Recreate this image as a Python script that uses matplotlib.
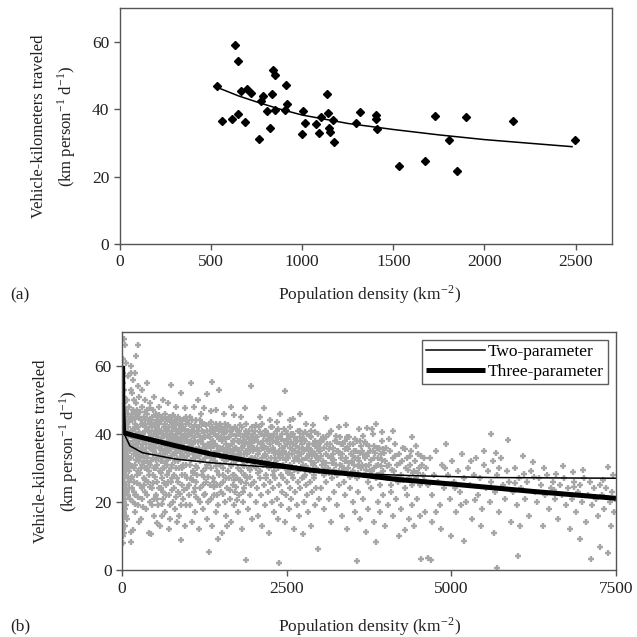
import matplotlib
matplotlib.use("Agg")
import matplotlib.pyplot as plt
import numpy as np

plt.rcParams['font.family'] = ['Liberation Serif', 'DejaVu Serif']
plt.rcParams['mathtext.fontset'] = 'stix'

# ---- panel (a): city averages ----
density_a = [534, 562, 613, 630, 650, 650, 667, 700, 685, 718, 764, 773, 788, 825,
             833, 843, 851, 805, 851, 912, 917, 906, 1005, 1017, 1000, 1075, 1091,
             1104, 1135, 1144, 1148, 1152, 1170, 1175, 1297, 1316, 1406, 1406, 1413,
             1532, 1676, 1731, 1803, 1849, 1900, 2155, 2497]
vkt_a = [46.8, 36.6, 37.0, 59.2, 54.2, 38.6, 45.5, 46.0, 36.3, 44.8, 31.1, 42.6,
         43.8, 34.3, 44.6, 51.7, 50.2, 39.4, 39.7, 47.3, 41.5, 39.7, 39.4, 36.0,
         32.7, 35.5, 32.9, 37.8, 44.6, 38.9, 34.5, 33.3, 36.8, 30.2, 36.0, 39.2,
         38.2, 37.0, 34.1, 23.2, 24.7, 37.9, 30.9, 21.7, 37.6, 36.6, 30.9]
fit_a_x = [530, 650, 750, 875, 1000, 1250, 1500, 1750, 2000, 2250, 2480]
fit_a_y = [46.6, 44.0, 42.2, 40.1, 38.3, 35.8, 34.0, 32.4, 31.0, 29.9, 28.9]

# ---- panel (b): tract-level points, by x range ----
cloud_0_120 = [
    (8, 62), (12, 58), (20, 55), (6, 52), (15, 50), (30, 49), (10, 47), (25, 46), (45, 45), (5, 44),
    (18, 43), (35, 43), (60, 42), (9, 41), (28, 41), (50, 40), (14, 39), (40, 39), (70, 38), (7, 37),
    (22, 37), (55, 36), (12, 35), (33, 35), (80, 35), (6, 34), (19, 33), (48, 33), (10, 32), (27, 31),
    (65, 31), (15, 30), (38, 30), (8, 29), (24, 28), (52, 28), (11, 27), (30, 26), (5, 25), (17, 24),
    (42, 24), (9, 23), (26, 22), (13, 21), (36, 20), (7, 19), (20, 18), (10, 17), (28, 16), (15, 15),
    (6, 14), (22, 13), (12, 12), (18, 10), (40, 66), (25, 68), (60, 61), (90, 57), (16, 53), (35, 51),
    (75, 50), (100, 48), (48, 47), (85, 46), (110, 44), (65, 44), (95, 42), (30, 45), (115, 40), (78, 40),
    (102, 37), (88, 36), (58, 34), (112, 33), (72, 32), (98, 30), (46, 29), (84, 27), (104, 26), (60, 25),
    (76, 23), (92, 22), (50, 21), (66, 19), (35, 17), (56, 16), (80, 15), (44, 13), (30, 11), (20, 8),
    (14, 48), (26, 39), (8, 36), (42, 37), (54, 43), (38, 32), (68, 47), (82, 41), (94, 33), (106, 29),
    (16, 26), (32, 23), (4, 31), (62, 38), (46, 41), (74, 36), (20, 34), (118, 36), (12, 44), (58, 30),
    (36, 27), (88, 31), (24, 49), (10, 40), (52, 35), (40, 18), (68, 28), (96, 39), (28, 53), (6, 20),
    (120, 31), (18, 37)]
cloud_120_1000 = [
    (130, 45), (145, 41), (160, 38), (170, 47), (180, 34), (190, 43), (200, 31), (210, 40), (225, 36),
    (235, 46), (240, 29), (250, 42), (260, 38), (270, 33), (285, 44), (295, 36), (300, 48), (310, 31),
    (320, 40), (335, 35), (345, 43), (355, 30), (365, 38), (375, 46), (385, 33), (395, 41), (405, 37),
    (415, 29), (425, 44), (435, 39), (445, 32), (455, 42), (465, 35), (475, 47), (485, 30), (495, 38),
    (505, 43), (515, 34), (525, 40), (535, 31), (545, 45), (555, 36), (565, 41), (575, 29), (585, 38),
    (595, 44), (605, 33), (615, 39), (625, 35), (635, 42), (645, 30), (655, 46), (665, 37), (675, 32),
    (685, 41), (695, 35), (705, 44), (715, 29), (725, 38), (735, 33), (745, 40), (755, 45), (765, 31),
    (775, 37), (785, 42), (795, 34), (805, 39), (815, 30), (825, 43), (835, 36), (845, 41), (855, 32),
    (865, 38), (875, 44), (885, 35), (895, 40), (905, 30), (915, 37), (925, 42), (935, 33), (945, 39),
    (955, 35), (965, 43), (975, 31), (985, 38), (995, 41),
    (125, 37), (140, 33), (155, 44), (175, 30), (185, 39), (205, 46), (215, 35), (230, 42), (245, 37),
    (255, 32), (265, 45), (280, 40), (290, 30), (305, 43), (315, 37), (330, 45), (340, 32), (350, 41),
    (360, 36), (370, 42), (380, 30), (390, 44), (400, 34), (410, 41), (420, 36), (430, 31), (440, 43),
    (450, 37), (460, 45), (470, 33), (480, 40), (490, 35), (500, 41), (510, 30), (520, 37), (530, 44),
    (540, 39), (550, 33), (560, 43), (570, 36), (580, 41), (590, 32), (600, 38), (610, 45), (620, 30),
    (630, 40), (640, 37), (650, 43), (660, 34), (670, 40), (680, 36), (690, 31), (700, 39), (710, 42),
    (720, 35), (730, 44), (740, 37), (750, 30), (760, 41), (770, 34), (780, 39), (790, 43), (800, 32),
    (810, 36), (820, 40), (830, 33), (840, 44), (850, 38), (860, 35), (870, 30), (880, 41), (890, 37),
    (900, 43), (910, 34), (920, 39), (930, 31), (940, 36), (950, 41), (960, 33), (970, 38), (980, 44),
    (990, 35),
    (135, 39.5), (165, 35.5), (195, 41.5), (220, 32.5), (275, 38.5), (325, 33.5), (350, 46.5),
    (390, 38.5), (430, 47.5), (470, 39.5), (510, 45.5), (550, 40.5), (590, 35.5), (630, 33.5),
    (670, 44.5), (710, 38.5), (740, 33.5), (780, 45.5), (820, 37.5), (860, 42.5), (900, 36.5),
    (940, 44.5), (980, 33.5), (150, 30.5), (280, 34.5), (400, 31.5), (520, 32.5), (660, 31.5),
    (800, 41.5), (930, 39.5),
    (150, 52), (180, 50), (220, 49), (260, 51), (300, 53), (350, 50), (420, 49), (480, 51), (560, 48),
    (620, 50), (700, 49), (739, 54.5), (820, 48), (891, 52), (950, 47.5), (160, 56), (240, 54),
    (380, 55), (200, 58), (140, 60), (243, 66), (207, 63), (131, 58), (141, 53),
    (130, 27), (150, 24), (165, 20), (180, 26), (200, 17), (215, 22), (230, 28), (250, 19), (270, 25),
    (290, 15), (310, 21), (330, 27), (350, 23), (370, 18), (390, 26), (410, 11), (430, 20), (450, 24),
    (470, 28), (490, 16), (510, 22), (530, 26), (550, 19), (570, 13), (590, 24), (610, 27), (630, 21),
    (650, 17), (670, 25), (690, 28), (710, 22), (730, 15), (750, 26), (770, 20), (790, 24), (810, 18),
    (830, 27), (850, 23), (870, 16), (891, 8.8), (910, 25), (930, 21), (950, 28), (970, 19), (990, 24),
    (172, 11.7), (131, 11.2), (131, 8.3), (435, 10.5), (526, 13.8), (260, 14), (600, 16), (720, 12),
    (840, 14), (960, 13), (190, 22), (340, 25), (480, 21), (620, 23), (760, 27), (900, 19)]
cloud_1000_2000 = [
    (1005, 40), (1015, 34), (1025, 43), (1035, 31), (1045, 38), (1055, 36), (1065, 42), (1075, 29),
    (1085, 37), (1095, 41), (1105, 33), (1115, 39), (1125, 44), (1135, 35), (1145, 30), (1155, 40),
    (1165, 36), (1175, 42), (1185, 32), (1195, 38), (1205, 34), (1215, 41), (1225, 29), (1235, 37),
    (1245, 43), (1255, 33), (1265, 39), (1275, 35), (1285, 41), (1295, 31), (1305, 37), (1315, 43),
    (1325, 34), (1335, 39), (1345, 30), (1355, 36), (1365, 42), (1375, 33), (1385, 38), (1395, 40),
    (1405, 32), (1415, 37), (1425, 43), (1435, 35), (1445, 29), (1455, 39), (1465, 34), (1475, 41),
    (1485, 31), (1495, 36), (1505, 42), (1515, 33), (1525, 38), (1535, 30), (1545, 40), (1555, 35),
    (1565, 43), (1575, 32), (1585, 37), (1595, 41), (1605, 29), (1615, 36), (1625, 39), (1635, 33),
    (1645, 42), (1655, 31), (1665, 37), (1675, 40), (1685, 34), (1695, 28), (1705, 38), (1715, 42),
    (1725, 32), (1735, 36), (1745, 40), (1755, 30), (1765, 35), (1775, 41), (1785, 33), (1795, 38),
    (1805, 29), (1815, 36), (1825, 42), (1835, 31), (1845, 37), (1855, 34), (1865, 40), (1875, 28),
    (1885, 35), (1895, 39), (1905, 32), (1915, 37), (1925, 41), (1935, 30), (1945, 36), (1955, 33),
    (1965, 39), (1975, 42), (1985, 31), (1995, 35),
    (1010, 37.5), (1030, 45), (1050, 32.5), (1070, 39.5), (1090, 34.5), (1110, 42.5), (1130, 30.5),
    (1150, 37.5), (1170, 33.5), (1190, 44), (1210, 38.5), (1230, 32.5), (1250, 40.5), (1270, 30),
    (1290, 36.5), (1310, 39.5), (1330, 31.5), (1350, 43.5), (1370, 37.5), (1390, 34.5), (1410, 41.5),
    (1430, 30.5), (1450, 36.5), (1470, 38.5), (1490, 43), (1510, 35.5), (1530, 40.5), (1550, 32.5),
    (1570, 38.5), (1590, 34.5), (1610, 42.5), (1630, 36.5), (1650, 30.5), (1670, 34.5), (1690, 41.5),
    (1710, 35.5), (1730, 39.5), (1750, 33.5), (1770, 37.5), (1790, 42.5), (1810, 34), (1830, 39),
    (1850, 30.5), (1870, 37.5), (1890, 43), (1910, 35.5), (1930, 38.5), (1950, 29.5), (1970, 36.5),
    (1990, 40),
    (1053, 55), (1362, 55.3), (1296, 51.6), (1474, 53), (1347, 46.7), (1100, 48), (1200, 46),
    (1420, 47), (1550, 46), (1700, 45.5), (1869, 47.7), (1960, 54.2), (1150, 50), (1650, 48),
    (1800, 45), (1250, 47.5),
    (1010, 25), (1030, 19), (1050, 27), (1070, 14), (1090, 23), (1110, 17), (1130, 26), (1150, 21),
    (1170, 12), (1190, 24), (1210, 28), (1230, 18), (1250, 22), (1270, 26), (1290, 15), (1310, 20),
    (1322, 5.3), (1340, 25), (1360, 13), (1380, 27), (1400, 22), (1420, 17), (1440, 25), (1460, 19),
    (1480, 28), (1500, 23), (1520, 11), (1540, 26), (1560, 20), (1580, 16), (1600, 24), (1620, 27),
    (1640, 21), (1660, 14), (1680, 25), (1700, 19), (1720, 23), (1740, 27), (1760, 17), (1780, 22),
    (1800, 26), (1820, 12), (1840, 20), (1860, 24), (1884, 2.9), (1900, 27), (1920, 18), (1940, 22),
    (1960, 25), (1980, 15), (1080, 28.5), (1240, 27.5), (1390, 24.5), (1530, 28), (1700, 26.5),
    (1860, 28), (1460, 9), (1600, 13), (1120, 21.5), (1750, 20.5)]
cloud_2000_3000 = [
    (2005, 38), (2015, 33), (2025, 41), (2035, 30), (2045, 36), (2055, 39), (2065, 32), (2075, 42),
    (2085, 35), (2095, 29), (2105, 37), (2115, 40), (2125, 33), (2135, 38), (2145, 31), (2155, 36),
    (2165, 41), (2175, 34), (2185, 28), (2195, 38), (2205, 32), (2215, 40), (2225, 35), (2235, 30),
    (2245, 37), (2255, 42), (2265, 33), (2275, 39), (2285, 31), (2295, 36), (2305, 40), (2315, 29),
    (2325, 35), (2335, 38), (2345, 32), (2355, 41), (2365, 34), (2375, 30), (2385, 37), (2395, 39),
    (2405, 33), (2415, 28), (2425, 36), (2435, 40), (2445, 31), (2455, 35), (2465, 38), (2475, 30),
    (2485, 41), (2495, 34), (2505, 37), (2515, 29), (2525, 33), (2535, 39), (2545, 36), (2555, 31),
    (2565, 40), (2575, 34), (2585, 28), (2595, 37), (2605, 32), (2615, 39), (2625, 35), (2635, 30),
    (2645, 38), (2655, 33), (2665, 41), (2675, 29), (2685, 36), (2695, 32), (2705, 39), (2715, 34),
    (2725, 30), (2735, 37), (2745, 40), (2755, 31), (2765, 35), (2775, 28), (2785, 38), (2795, 33),
    (2805, 36), (2815, 40), (2825, 30), (2835, 34), (2845, 37), (2855, 29), (2865, 32), (2875, 39),
    (2885, 35), (2895, 31), (2905, 37), (2915, 28), (2925, 34), (2935, 38), (2945, 30), (2955, 33),
    (2965, 36), (2975, 40), (2985, 29), (2995, 35),
    (2010, 35.5), (2040, 42.5), (2070, 37.5), (2100, 31.5), (2130, 43), (2160, 36.5), (2190, 33.5),
    (2220, 38.5), (2250, 30.5), (2280, 42), (2310, 34.5), (2340, 37.5), (2370, 41.5), (2400, 30.5),
    (2430, 34.5), (2460, 41.5), (2490, 32.5), (2520, 38.5), (2550, 42), (2580, 35.5), (2610, 29.5),
    (2640, 36.5), (2670, 33.5), (2700, 41), (2730, 32.5), (2760, 38.5), (2790, 30.5), (2820, 35.5),
    (2850, 39.5), (2880, 33.5), (2910, 31.5), (2940, 36.5), (2970, 32.5), (3000, 38),
    (2477, 52.5), (2100, 45), (2250, 44), (2400, 46), (2600, 44.5), (2800, 43), (2150, 47.5),
    (2700, 46), (2350, 43.5), (2900, 42.5), (2550, 44),
    (2010, 26), (2030, 20), (2050, 24), (2070, 16), (2090, 27), (2110, 22), (2130, 13), (2150, 25),
    (2170, 19), (2190, 27), (2210, 23), (2230, 11), (2250, 26), (2270, 20), (2290, 24), (2310, 17),
    (2330, 27), (2350, 21), (2370, 15), (2380, 2), (2390, 25), (2410, 19), (2430, 23), (2450, 27),
    (2470, 14), (2490, 22), (2510, 26), (2530, 18), (2550, 24), (2570, 21), (2590, 27), (2610, 12),
    (2630, 23), (2650, 19), (2670, 26), (2690, 16), (2710, 24), (2730, 27), (2755, 10.5), (2770, 20),
    (2790, 25), (2810, 22), (2830, 17), (2850, 26), (2870, 13), (2890, 23), (2910, 27), (2930, 19),
    (2950, 24), (2973, 6.3), (2990, 21), (2060, 28.5), (2300, 28), (2520, 28.5), (2760, 27.5)]
cloud_core_extra = [
    (112, 43.5), (128, 35), (147, 46), (163, 41.5), (187, 36.5), (198, 44.5), (213, 38), (228, 47),
    (247, 33.5), (262, 40.5), (277, 46.5), (293, 38.5), (307, 35), (322, 42.5), (338, 38), (357, 44),
    (372, 34.5), (387, 47), (403, 39), (418, 43), (433, 35.5), (447, 40), (463, 44), (477, 37),
    (493, 42.5), (507, 36), (523, 46), (538, 42), (553, 38), (568, 45.5), (583, 34), (597, 41),
    (612, 36.5), (627, 44.5), (643, 39.5), (657, 35), (673, 42), (688, 38), (703, 33), (718, 45),
    (733, 40), (748, 35.5), (763, 43), (778, 38), (793, 36.5), (808, 44), (823, 34.5), (838, 39),
    (853, 45), (868, 40.5), (883, 33), (898, 38.5), (913, 44), (928, 36), (943, 41.5), (958, 38),
    (973, 45), (988, 39),
    (1018, 36.5), (1038, 40.5), (1058, 44), (1078, 34), (1098, 38), (1118, 35.5), (1138, 41),
    (1158, 33.5), (1178, 39), (1198, 35), (1218, 43), (1238, 39.5), (1258, 36), (1278, 42.5),
    (1298, 34), (1318, 37), (1338, 41), (1358, 33), (1378, 40.5), (1398, 36.5), (1418, 34),
    (1438, 39.5), (1458, 42), (1478, 35), (1498, 39), (1518, 41.5), (1538, 36), (1558, 38.5),
    (1578, 42), (1598, 35.5), (1618, 39), (1638, 41), (1658, 35), (1678, 38), (1698, 32), (1718, 36),
    (1738, 41.5), (1758, 38), (1778, 35), (1798, 40), (1818, 32.5), (1838, 36.5), (1858, 38),
    (1878, 41), (1898, 34), (1918, 40), (1938, 35), (1958, 37.5), (1978, 33), (1998, 38.5),
    (2030, 39), (2060, 34), (2090, 40.5), (2120, 36), (2150, 39.5), (2180, 41), (2210, 35.5),
    (2240, 39), (2270, 35), (2300, 38), (2330, 33), (2360, 39), (2390, 35), (2420, 38.5), (2450, 33),
    (2480, 36.5), (2510, 40), (2540, 34), (2570, 37.5), (2600, 40), (2630, 33), (2660, 38),
    (2690, 34.5), (2720, 38), (2750, 35.5), (2780, 40.5), (2810, 33), (2840, 36), (2870, 41),
    (2900, 34.5), (2930, 40.5), (2960, 37)]
cloud_low_extra = [
    (105, 24), (125, 21), (145, 27.5), (175, 23), (195, 19.5), (225, 25.5), (245, 21.5), (275, 28.5),
    (305, 24), (325, 18.5), (355, 26.5), (385, 22), (405, 28), (425, 24.5), (455, 19), (475, 25.5),
    (505, 27.5), (535, 21), (565, 24), (585, 28.5), (615, 19.5), (645, 25.5), (675, 22), (705, 26),
    (735, 19), (765, 23.5), (795, 28), (825, 21.5), (855, 26), (885, 22.5), (915, 28), (945, 23.5),
    (985, 27), (1025, 22), (1065, 26.5), (1105, 24), (1145, 28), (1185, 20), (1225, 25), (1265, 22.5),
    (1305, 27.5), (1345, 21), (1395, 26), (1435, 22), (1485, 25), (1535, 22.5), (1585, 27),
    (1635, 23.5), (1685, 28), (1735, 24.5), (1785, 26.5), (1835, 23), (1885, 25.5), (1945, 27.5)]
cloud_3000_4600 = [
    (3010, 36), (3030, 31), (3050, 39), (3070, 28), (3090, 34), (3090, 44.6), (3110, 37), (3130, 30),
    (3150, 40), (3170, 33), (3190, 27), (3210, 36), (3230, 38), (3250, 31), (3270, 35), (3290, 29),
    (3310, 39), (3330, 33), (3350, 37), (3370, 26), (3390, 32), (3410, 36), (3430, 30), (3450, 39),
    (3470, 34), (3490, 28), (3510, 37), (3530, 31), (3550, 35), (3570, 27), (3590, 33), (3610, 38),
    (3630, 30), (3650, 35), (3670, 28), (3690, 33), (3710, 37), (3730, 26), (3750, 31), (3770, 35),
    (3790, 29), (3810, 40), (3830, 33), (3850, 27), (3870, 36), (3890, 31), (3910, 25), (3930, 34),
    (3950, 38), (3970, 29), (3990, 32), (4010, 36), (4030, 27), (4050, 31), (4070, 35), (4090, 25),
    (4110, 33), (4130, 29), (4150, 37), (4170, 31), (4190, 26), (4210, 34), (4230, 28), (4250, 32),
    (4270, 36), (4290, 24), (4310, 30), (4330, 33), (4350, 27), (4370, 31), (4390, 35), (4410, 25),
    (4430, 29), (4450, 32), (4470, 27), (4490, 34), (4510, 30), (4530, 25), (4550, 31), (4570, 28),
    (4590, 33),
    (3020, 33.5), (3060, 38.5), (3100, 31.5), (3140, 35.5), (3180, 41), (3220, 29.5), (3260, 37.5),
    (3300, 34.5), (3340, 30.5), (3380, 35.5), (3420, 39), (3460, 27.5), (3500, 33.5), (3540, 38.5),
    (3580, 30.5), (3620, 34.5), (3660, 39.5), (3700, 29.5), (3740, 34.5), (3780, 28), (3820, 36.5),
    (3860, 30.5), (3900, 35.5), (3940, 28.5), (3980, 34.5), (4020, 30.5), (4060, 38.5), (4100, 29.5),
    (4140, 33.5), (4180, 27.5), (4220, 31.5), (4260, 26.5), (4300, 35.5), (4340, 29.5), (4380, 33.5),
    (4420, 28.5), (4460, 36.5), (4500, 28.5), (4540, 33.5), (4580, 26.5),
    (3005, 35), (3025, 37.5), (3045, 32), (3065, 36), (3085, 30), (3105, 39), (3125, 33.5),
    (3145, 28.5), (3165, 37), (3185, 31.5), (3205, 34), (3225, 32.5), (3245, 39.5), (3265, 28),
    (3285, 35), (3305, 31), (3325, 37), (3345, 34), (3365, 29.5), (3385, 38), (3405, 33),
    (3425, 35.5), (3445, 31.5), (3465, 37), (3485, 32), (3505, 29), (3525, 35), (3545, 33),
    (3565, 38), (3585, 28.5), (3605, 32), (3625, 36.5), (3645, 31), (3665, 34), (3685, 37.5),
    (3705, 30.5), (3725, 33.5), (3745, 36.5), (3765, 29), (3785, 32.5), (3805, 35), (3825, 30),
    (3845, 34.5), (3865, 28), (3885, 33), (3905, 36), (3925, 30.5), (3945, 32.5), (3965, 35.5),
    (3985, 27.5),
    (3800, 41.4), (3950, 40.5), (4110, 41), (3300, 42), (3600, 41.5), (4400, 39), (3850, 43),
    (3720, 41.8), (3400, 42.5),
    (3020, 24), (3060, 18), (3100, 26), (3140, 21), (3180, 14), (3220, 23), (3260, 19), (3300, 25),
    (3340, 16), (3380, 22), (3420, 12), (3460, 24), (3500, 20), (3540, 17), (3565, 2.7), (3580, 23),
    (3620, 15), (3660, 21), (3700, 11.2), (3740, 18), (3780, 24), (3820, 14), (3850, 8.3), (3880, 20),
    (3920, 17), (3960, 22), (4000, 13), (4040, 19), (4080, 23), (4120, 16), (4160, 21), (4200, 10),
    (4240, 18), (4290, 11.7), (4320, 22), (4360, 15), (4400, 19), (4440, 13), (4480, 21), (4544, 3.4),
    (4600, 17), (4690, 3), (4650, 3.6), (4520, 16)]
cloud_4600_7500 = [
    (4620, 30), (4650, 25), (4680, 33), (4710, 22), (4740, 28), (4770, 35), (4800, 26), (4830, 19),
    (4860, 31), (4890, 24), (4920, 37), (4950, 28), (4980, 21), (5010, 32), (5040, 26), (5070, 17),
    (5100, 29), (5130, 23), (5160, 34), (5190, 27), (5220, 20), (5250, 30), (5280, 25), (5310, 15),
    (5340, 28), (5370, 33), (5400, 22), (5430, 27), (5460, 18), (5490, 31), (5520, 24), (5550, 29),
    (5580, 20), (5608, 39.9), (5610, 26), (5640, 32), (5670, 23), (5684, 34.3), (5699, 0.5),
    (5700, 28), (5730, 17), (5760, 32.9), (5790, 25), (5820, 21), (5860, 38.2), (5850, 29),
    (5880, 26), (5910, 14), (5940, 23), (5970, 30), (6000, 19), (6012, 4.1), (6030, 27), (6060, 24),
    (6088, 33.6), (6100, 28.1), (6120, 21), (6150, 26), (6180, 16), (6210, 29), (6240, 31.9),
    (6270, 23), (6300, 20), (6330, 27), (6360, 25), (6390, 13), (6420, 22), (6450, 28), (6480, 18),
    (6510, 24), (6540, 26), (6570, 21), (6590, 28.2), (6620, 15), (6650, 25), (6680, 22), (6710, 27),
    (6740, 19), (6770, 24), (6800, 12), (6830, 21), (6848, 28.7), (6870, 26), (6900, 17), (6930, 23),
    (6960, 25), (6990, 20), (7020, 27), (7050, 14), (7080, 22), (7110, 26), (7128, 3.4), (7140, 19),
    (7170, 24), (7200, 21), (7230, 16), (7254, 6.8), (7260, 25), (7290, 22), (7320, 18), (7350, 24),
    (7380, 30.3), (7410, 20), (7440, 23), (7470, 17), (7490, 21),
    (4700, 14), (4850, 12), (5000, 10), (5200, 8.5), (5450, 13), (5650, 11), (4900, 30), (5150, 19),
    (5300, 32), (5500, 35), (5720, 30), (6050, 13), (6400, 30), (6700, 30.5), (7000, 29.5),
    (7300, 26.5), (7450, 28), (4760, 17), (5060, 24), (5360, 20.5), (5960, 25.5), (6260, 27.5),
    (6560, 23.5), (6860, 24.5), (7160, 21.5), (7420, 13), (7380, 5), (6950, 9)]

two_param_x = [10, 12, 30, 120, 310, 820, 1330, 1780, 2440, 3000, 3610, 4500, 5590, 6500, 7500]
two_param_y = [60, 46, 40.2, 36.5, 34.5, 32.6, 31.6, 30.9, 30.0, 29.0, 28.3, 27.7, 27.2, 27.1, 27.0]
three_param_x = [10, 12, 25, 150, 400, 800, 1330, 1780, 2500, 2850, 3600, 4200, 5000, 6250, 7500]
three_param_y = [60, 48, 40.4, 39.7, 38.5, 36.6, 34.2, 32.6, 30.4, 29.4, 28.0, 26.6, 25.3, 23.1, 21.1]

ylabel = 'Vehicle-kilometers traveled\n(km person$^{\\mathregular{-1}}$ d$^{\\mathregular{-1}}$)'
xlabel = 'Population density (km$^{\\mathregular{-2}}$)'
txt = '#222222'


def style(ax):
    for s in ax.spines.values():
        s.set_color('#555555')
        s.set_linewidth(1.0)
    ax.tick_params(direction='out', length=4, width=1, color='#555555',
                   labelsize=12.5, labelcolor=txt, top=False, right=False)
    ax.set_ylabel(ylabel, fontsize=12, color=txt, labelpad=10, linespacing=1.5)


fig = plt.figure(figsize=(6.37, 6.37), dpi=100)

ax1 = fig.add_axes([0.188, 0.617, 0.773, 0.370])
ax1.plot(density_a, vkt_a, linestyle='none', marker='D', markersize=4.5,
         color='black')
ax1.plot(fit_a_x, fit_a_y, color='black', lw=1.1)
ax1.set_xlim(0, 2700)
ax1.set_ylim(0, 70)
ax1.set_xticks([0, 500, 1000, 1500, 2000, 2500])
ax1.set_yticks([0, 20, 40, 60])
style(ax1)

ax2 = fig.add_axes([0.1915, 0.105, 0.7755, 0.374])
cloud = np.array(cloud_0_120 + cloud_120_1000 + cloud_1000_2000 + cloud_2000_3000
                 + cloud_core_extra + cloud_low_extra + cloud_3000_4600
                 + cloud_4600_7500)
ax2.plot(cloud[:, 0], cloud[:, 1], linestyle='none', marker='+', markersize=4.0,
         markeredgewidth=1.7, color='#a6a6a6')
ax2.plot(two_param_x, two_param_y, color='black', lw=1.1, label='Two-parameter')
ax2.plot(three_param_x, three_param_y, color='black', lw=3.6,
         label='Three-parameter', solid_capstyle='butt')
ax2.set_xlim(0, 7500)
ax2.set_ylim(0, 70)
ax2.set_xticks([0, 2500, 5000, 7500])
ax2.set_yticks([0, 20, 40, 60])
style(ax2)
leg = ax2.legend(loc='upper right', fontsize=12.5, frameon=True, fancybox=False,
                 edgecolor='#333333', handlelength=3.4, handletextpad=0.15,
                 borderpad=0.25, labelspacing=0.2, borderaxespad=0.45)
leg.get_frame().set_linewidth(1.0)

fig.text(0.016, 0.537, '(a)', fontsize=12.5, color=txt, va='center')
fig.text(0.58, 0.537, xlabel, fontsize=12.5, color=txt, ha='center', va='center')
fig.text(0.016, 0.016, '(b)', fontsize=12.5, color=txt, va='center')
fig.text(0.58, 0.016, xlabel, fontsize=12.5, color=txt, ha='center', va='center')

fig.savefig('out.png', dpi=100)
